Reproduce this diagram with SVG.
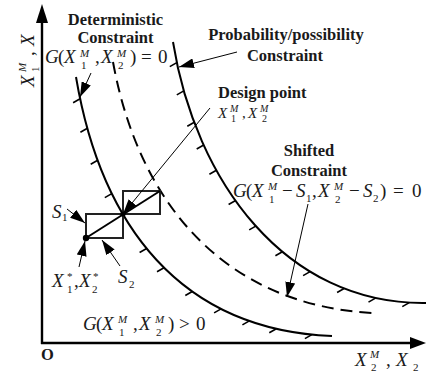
<svg xmlns="http://www.w3.org/2000/svg" width="426" height="377" viewBox="0 0 426 377">
<style>
.lbl{font-family:"Liberation Serif","Times New Roman",serif;font-weight:bold;font-size:16.5px;fill:#1a1a1a}
.m{font-family:"Liberation Serif","Times New Roman",serif;font-size:19px;fill:#1a1a1a}
.dm{font-size:15px}
.i{font-style:italic}
.s{font-size:11px}
.ss{font-size:10px}
.curve{fill:none;stroke:#000;stroke-width:2}
.dash{fill:none;stroke:#000;stroke-width:2;stroke-dasharray:12 7}
.tick{fill:none;stroke:#000;stroke-width:1.6}
.axis{stroke:#000;stroke-width:2.4;fill:none}
.lead{stroke:#000;stroke-width:1;fill:none;marker-end:url(#ah)}
.box{fill:none;stroke:#222;stroke-width:2}
</style>
<defs>
<marker id="ah" markerUnits="userSpaceOnUse" markerWidth="15" markerHeight="10" viewBox="0 0 15 10" refX="15" refY="5" orient="auto">
<path d="M0,0 L15,5 L0,10 z" fill="#000"/>
</marker>
</defs>

<g id="axes">
<path class="axis" d="M42,344 V20"/>
<polygon points="42,4 36,23 48,23" fill="#000"/>
<path class="axis" d="M41,343 H412"/>
<polygon points="426,343 410,337 410,349" fill="#000"/>
<text class="lbl" x="41" y="360">O</text>
<text class="m" transform="translate(34,87) rotate(-90)"><tspan class="i" x="0" y="0">X</tspan><tspan class="i s" x="15" y="-8">M</tspan><tspan class="s" x="15" y="4.5">1</tspan><tspan x="31" y="0">,</tspan><tspan class="i" x="41" y="0">X</tspan></text>
<text class="m"><tspan class="i" x="355" y="366">X</tspan><tspan class="i s" x="370" y="358">M</tspan><tspan class="s" x="371" y="371">2</tspan><tspan x="386" y="366">,</tspan><tspan class="i" x="396" y="366">X</tspan><tspan class="s" x="413" y="371">2</tspan></text>
</g>

<g id="deterministic-constraint">
<path class="curve" d="M76,77 C101,225 180,330 332,336"/>
<path class="tick" d="M80.1,98.8 l-7,4 M87.4,128.3 l-7,4 M97.7,160.2 l-7,4 M111.8,193.6 l-7,4 M146.6,248.5 l-7,4 M164,267.7 l-7,4 M192.3,291.5 l-7,4 M221.1,308.9 l-7,4 M249.4,320.9 l-7,4 M276.3,328.8 l-7,4 M311.9,334.6 l-7,4"/>
<text class="lbl" x="115.5" y="25" text-anchor="middle">Deterministic</text>
<text class="lbl" x="115.5" y="42.5" text-anchor="middle">Constraint</text>
<text class="m"><tspan class="i" x="45" y="63">G</tspan><tspan x="58" y="63">(</tspan><tspan class="i" x="64" y="63">X</tspan><tspan class="i s" x="80" y="56.5">M</tspan><tspan class="s" x="81" y="69">1</tspan><tspan x="95" y="63">,</tspan><tspan class="i" x="101" y="63">X</tspan><tspan class="i s" x="117" y="56.5">M</tspan><tspan class="s" x="118" y="69">2</tspan><tspan x="130" y="63">)</tspan><tspan x="141" y="63">=</tspan><tspan x="158" y="63">0</tspan></text>
</g>

<g id="probability-constraint">
<path class="curve" d="M173,42 C195,180 285,305 426,303"/>
<path class="tick" d="M176.8,62.6 l-7,4 M183.8,90.9 l-7,4 M194.3,122.3 l-7,4 M203.7,145 l-7,4 M216.4,170.3 l-7,4 M235.6,200.5 l-7,4 M256.2,225.9 l-7,4 M282.4,251.7 l-7,4 M310.1,271.6 l-7,4 M344.1,288.5 l-7,4 M375.5,298.1 l-7,4 M409.3,302.6 l-7,4"/>
<text class="lbl" x="286" y="40" text-anchor="middle">Probability/possibility</text>
<text class="lbl" x="285" y="61" text-anchor="middle">Constraint</text>
</g>

<g id="shifted-constraint">
<path class="dash" d="M113,62 C140,210 230,305 372,313"/>
<text class="lbl" x="309" y="156" text-anchor="middle">Shifted</text>
<text class="lbl" x="309" y="176" text-anchor="middle">Constraint</text>
<text class="m"><tspan class="i" x="233" y="197">G</tspan><tspan x="246" y="197">(</tspan><tspan class="i" x="252" y="197">X</tspan><tspan class="i s" x="268" y="190">M</tspan><tspan class="s" x="269" y="202.5">1</tspan><tspan x="282" y="197">−</tspan><tspan class="i" x="296" y="197">S</tspan><tspan class="s" x="306" y="202">1</tspan><tspan x="312" y="197">,</tspan><tspan class="i" x="318" y="197">X</tspan><tspan class="i s" x="334" y="190">M</tspan><tspan class="s" x="335" y="202.5">2</tspan><tspan x="349" y="197">−</tspan><tspan class="i" x="363" y="197">S</tspan><tspan class="s" x="373" y="202">2</tspan><tspan x="380" y="197">)</tspan><tspan x="393" y="197">=</tspan><tspan x="412" y="197">0</tspan></text>
</g>

<g id="design-point">
<rect class="box" x="86" y="214" width="37" height="24"/>
<rect class="box" x="123" y="191" width="37" height="23"/>
<path d="M86,238 L160,191" stroke="#000" stroke-width="2" fill="none"/>
<circle cx="86" cy="238" r="3.2" fill="#000"/>
<circle cx="123" cy="214" r="2.6" fill="#000"/>
<text class="lbl" x="218" y="98">Design point</text>
<text class="m dm"><tspan class="i" x="218" y="118">X</tspan><tspan class="i ss" x="230" y="111.5">M</tspan><tspan class="ss" x="231" y="122">1</tspan><tspan x="242" y="118">,</tspan><tspan class="i" x="248" y="118">X</tspan><tspan class="i ss" x="260" y="111.5">M</tspan><tspan class="ss" x="262" y="122">2</tspan></text>
</g>

<g id="label-s1">
<text class="m"><tspan class="i" x="52" y="218">S</tspan><tspan class="s" x="62" y="221">1</tspan></text>
</g>
<g id="label-xstar">
<text class="m"><tspan class="i" x="52" y="287">X</tspan><tspan class="s" x="67" y="280">*</tspan><tspan class="s" x="67" y="292.5">1</tspan><tspan x="74" y="287">,</tspan><tspan class="i" x="79" y="287">X</tspan><tspan class="s" x="93" y="280">*</tspan><tspan class="s" x="92" y="292.5">2</tspan></text>
</g>
<g id="label-s2">
<text class="m"><tspan class="i" x="118" y="283">S</tspan><tspan class="s" x="129" y="288">2</tspan></text>
</g>
<g id="label-feasible">
<text class="m"><tspan class="i" x="83" y="330">G</tspan><tspan x="96" y="330">(</tspan><tspan class="i" x="102" y="330">X</tspan><tspan class="i s" x="118" y="323">M</tspan><tspan class="s" x="119" y="335.5">1</tspan><tspan x="133" y="330">,</tspan><tspan class="i" x="139" y="330">X</tspan><tspan class="i s" x="155" y="323">M</tspan><tspan class="s" x="156" y="335.5">2</tspan><tspan x="168" y="330">)</tspan><tspan x="179" y="330">&gt;</tspan><tspan x="196" y="330">0</tspan></text>
</g>

<g id="connectors">
<path class="lead" d="M91,73 L80,97"/>
<path class="lead" d="M237,52 L179,67"/>
<path class="lead" d="M210,108 L123,214"/>
<path class="lead" d="M308,204 L287,297"/>
<path class="lead" d="M67,209 L85,223"/>
<path class="lead" d="M79,267 L85,241"/>
<path class="lead" d="M120,266 L102,240"/>
</g>
</svg>
